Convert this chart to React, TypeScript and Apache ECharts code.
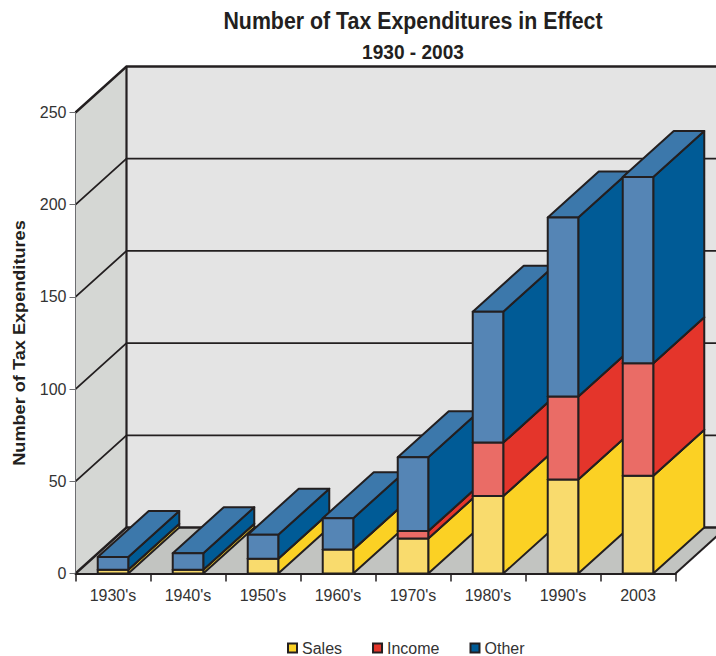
import React, { useEffect, useRef } from "react";
import * as echarts from "echarts";

const categories = ["1930's", "1940's", "1950's", "1960's", "1970's", "1980's", "1990's", "2003"];
const salesValues = [2, 2, 8, 13, 19, 42, 51, 53];
const incomeValues = [0, 0, 0, 0, 4, 29, 45, 61];
const otherValues = [7, 9, 13, 17, 40, 71, 97, 101];
const yTicks = [0, 50, 100, 150, 200, 250];

const INK = "#231F20";
const LABEL = "#333333";
const SANS = '"Liberation Sans", sans-serif';
// Screen offset of the chart's depth axis, from the front plane to the back wall.
const DEPTH_X = 51;
const DEPTH_Y = -46;

const palette = {
  Sales: { side: "#FBD124", front: "#F9DB6D", top: "#F9DB6D" },
  Income: { side: "#E4352B", front: "#EA6C66", top: "#EA6C66" },
  Other: { side: "#005B96", front: "#5585B5", top: "#3C78AB" },
};

function stackedRows(values: number[], below: number[][]) {
  return values.map((v, i) => {
    const base = below.reduce((sum, s) => sum + s[i], 0);
    return [i, base, base + v];
  });
}

function barRenderer(colors: { side: string; front: string; top: string }, layer: number) {
  return (_params: any, api: any) => {
    const i = api.value(0);
    const lo = api.value(1);
    const hi = api.value(2);
    if (hi <= lo) return { type: "group", children: [] };
    const cx = api.coord([i, 0])[0];
    const w = api.size([1, 0])[0] * 0.407;
    const x0 = cx - w / 2;
    const x1 = cx + w / 2;
    const yLo = api.coord([i, lo])[1];
    const yHi = api.coord([i, hi])[1];
    const z2 = i * 10 + layer;
    const stroke = { stroke: INK, lineWidth: 2, lineJoin: "round" };
    const face = (points: number[][], fill: string) => ({
      type: "polygon",
      z2,
      shape: { points },
      style: { fill, ...stroke },
    });
    return {
      type: "group",
      children: [
        face(
          [[x1, yLo], [x1 + DEPTH_X, yLo + DEPTH_Y], [x1 + DEPTH_X, yHi + DEPTH_Y], [x1, yHi]],
          colors.side
        ),
        face(
          [[x0, yHi], [x1, yHi], [x1 + DEPTH_X, yHi + DEPTH_Y], [x0 + DEPTH_X, yHi + DEPTH_Y]],
          colors.top
        ),
        face([[x0, yLo], [x1, yLo], [x1, yHi], [x0, yHi]], colors.front),
      ],
    };
  };
}

// Left wall, back wall, floor and the gridlines that wrap around the two walls.
function roomRenderer(params: any, api: any) {
  const { x, width } = params.coordSys;
  const y0 = api.coord([0, yTicks[0]])[1];
  const yMax = api.coord([0, yTicks[yTicks.length - 1]])[1];
  const xR = x + width;
  const bx = x + DEPTH_X;
  const dy = DEPTH_Y;
  const line = (points: number[][], lineWidth: number) => ({
    type: "polyline",
    shape: { points },
    style: { fill: "none", stroke: INK, lineWidth },
  });
  const poly = (points: number[][], fill: string) => ({
    type: "polygon",
    shape: { points },
    style: { fill, stroke: "none" },
  });
  const children: any[] = [
    poly([[bx, yMax + dy], [xR + DEPTH_X, yMax + dy], [xR + DEPTH_X, y0 + dy], [bx, y0 + dy]], "#E4E4E4"),
    poly([[x, yMax], [bx, yMax + dy], [bx, y0 + dy], [x, y0]], "#D5D7D4"),
    poly([[x, y0], [xR, y0], [xR + DEPTH_X, y0 + dy], [bx, y0 + dy]], "#C2C4C1"),
  ];
  yTicks.forEach((t) => {
    const y = api.coord([0, t])[1];
    const weight = t === yTicks[0] || t === yTicks[yTicks.length - 1] ? 2.4 : 1.8;
    children.push(line([[x, y], [bx, y + dy], [xR + DEPTH_X, y + dy]], weight));
  });
  children.push(line([[bx, yMax + dy], [bx, y0 + dy]], 2.2));
  children.push(line([[xR, y0], [xR + DEPTH_X, y0 + dy]], 2));
  return { type: "group", children };
}

export default function App() {
  const ref = useRef<HTMLDivElement>(null);

  useEffect(() => {
    document.body.style.margin = "0";
    const chart = echarts.init(ref.current!, undefined, { renderer: "svg" });
    const barSeries = (name: "Sales" | "Income" | "Other", rows: number[][], layer: number) => ({
      name,
      type: "custom",
      coordinateSystem: "cartesian2d",
      z: 3,
      clip: false,
      renderItem: barRenderer(palette[name], layer),
      encode: { x: 0, y: [1, 2] },
      itemStyle: { color: palette[name].side, borderColor: INK, borderWidth: 2 },
      data: rows,
    });
    chart.setOption({
      animation: false,
      backgroundColor: "#FFFFFF",
      graphic: [
        {
          type: "text",
          x: 413,
          y: 21,
          scaleX: 0.89,
          style: {
            text: "Number of Tax Expenditures in Effect",
            fontFamily: SANS,
            fontSize: 24,
            fontWeight: "bold",
            fill: INK,
            align: "center",
            verticalAlign: "middle",
          },
        },
        {
          type: "text",
          x: 413,
          y: 52,
          scaleX: 0.91,
          style: {
            text: "1930 - 2003",
            fontFamily: SANS,
            fontSize: 21,
            fontWeight: "bold",
            fill: INK,
            align: "center",
            verticalAlign: "middle",
          },
        },
        {
          type: "text",
          x: 19,
          y: 343,
          rotation: Math.PI / 2,
          scaleX: 1.1,
          style: {
            text: "Number of Tax Expenditures",
            fontFamily: SANS,
            fontSize: 16.5,
            fontWeight: "bold",
            fill: INK,
            align: "center",
            verticalAlign: "middle",
          },
        },
      ],
      legend: {
        data: ["Sales", "Income", "Other"],
        left: 287,
        top: 640,
        padding: 0,
        itemWidth: 9,
        itemHeight: 9,
        itemGap: 30,
        icon: "rect",
        selectedMode: false,
        textStyle: { fontFamily: SANS, fontSize: 16, color: LABEL },
      },
      grid: { left: 75.5, top: 112.5, width: 600, height: 461, outerBoundsMode: "none" },
      xAxis: {
        type: "category",
        data: categories,
        z: 10,
        axisLine: { lineStyle: { color: INK, width: 2 } },
        axisTick: { show: true, length: 8, lineStyle: { color: INK, width: 1.5 } },
        axisLabel: { margin: 14, fontFamily: SANS, fontSize: 16, color: LABEL },
      },
      yAxis: {
        type: "value",
        min: 0,
        max: 250,
        interval: 50,
        z: 10,
        axisLine: { show: true, lineStyle: { color: "#6D6E71", width: 1 } },
        axisTick: { show: true, length: 6, lineStyle: { color: "#6D6E71", width: 1 } },
        axisLabel: { margin: 9, fontFamily: SANS, fontSize: 16, color: LABEL },
        splitLine: { show: false },
      },
      series: [
        {
          name: "room",
          type: "custom",
          coordinateSystem: "cartesian2d",
          z: 1,
          clip: false,
          silent: true,
          renderItem: roomRenderer,
          data: [[0, 0]],
        },
        barSeries("Sales", stackedRows(salesValues, []), 0),
        barSeries("Income", stackedRows(incomeValues, [salesValues]), 1),
        barSeries("Other", stackedRows(otherValues, [salesValues, incomeValues]), 2),
      ],
    });
    return () => chart.dispose();
  }, []);

  return <div ref={ref} style={{ width: 716, height: 656 }} />;
}
